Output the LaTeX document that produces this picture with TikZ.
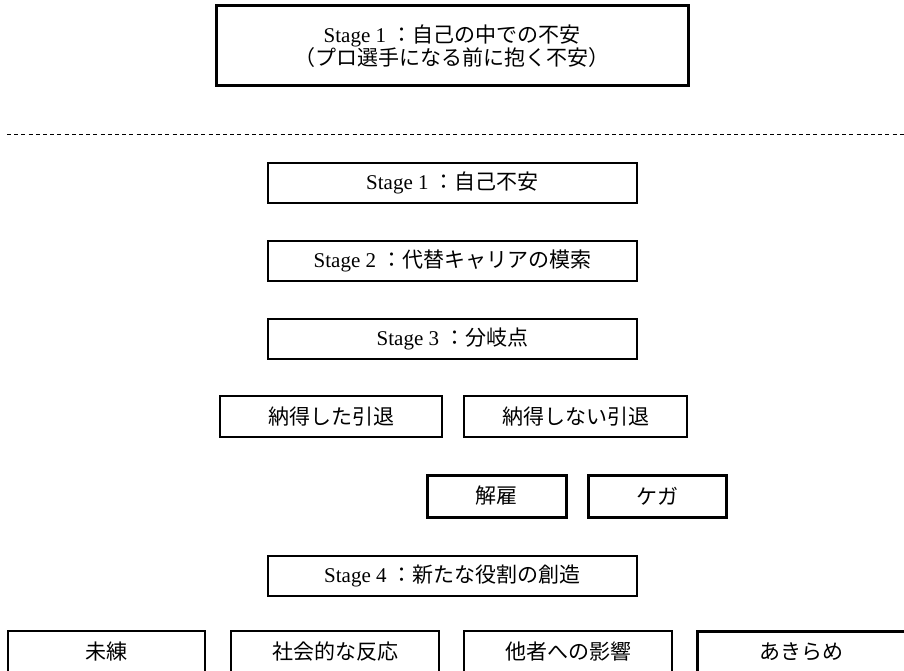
\documentclass[tikz,border=0pt]{standalone}
\usepackage{fontspec}
\setmainfont{Liberation Serif}
\newfontfamily\jp{Noto Sans CJK JP}
\tikzset{
  box/.style={draw=black, line width=1.3pt, rectangle, inner sep=0pt,
    font=\fontsize{21}{22.5}\selectfont, align=center},
  thickbox/.style={box, line width=3pt},
}
\begin{document}
\begin{tikzpicture}[x=1pt,y=-1pt]
\useasboundingbox (0,0) rectangle (904,671);
\node[thickbox, minimum width=472pt, minimum height=80pt] (top) at (452,46)
  {Stage 1 {\jp ：自己の中での不安}\\{\jp （プロ選手になる前に抱く不安）}};
\coordinate (dl) at (7,135);
\coordinate (dr) at (904,135);
\draw[line width=1pt, dash pattern=on 4pt off 3.2pt] (dl) -- (dr);
\node[box, minimum width=369pt, minimum height=40pt] (s1) at (452.5,183) {Stage 1 {\jp ：自己不安}};
\node[box, minimum width=369pt, minimum height=40pt] (s2) at (452.5,261) {Stage 2 {\jp ：代替キャリアの模索}};
\node[box, minimum width=369pt, minimum height=40pt] (s3) at (452.5,339) {Stage 3 {\jp ：分岐点}};
\node[box, minimum width=222pt, minimum height=41pt] (ok) at (331,416.5) {\jp 納得した引退};
\node[box, minimum width=223pt, minimum height=41pt] (ng) at (575.5,416.5) {\jp 納得しない引退};
\node[thickbox, minimum width=139pt, minimum height=42pt] (kaiko) at (496.5,496) {\jp 解雇};
\node[thickbox, minimum width=138pt, minimum height=42pt] (kega) at (657,496) {\jp ケガ};
\node[box, minimum width=369pt, minimum height=40pt] (s4) at (452.5,576) {Stage 4 {\jp ：新たな役割の創造}};
\node[box, minimum width=197pt, minimum height=42pt] (b1) at (106.5,652) {\jp 未練};
\node[box, minimum width=208pt, minimum height=42pt] (b2) at (335,652) {\jp 社会的な反応};
\node[box, minimum width=208pt, minimum height=42pt] (b3) at (568,652) {\jp 他者への影響};
\node[thickbox, minimum width=209pt, minimum height=42pt] (b4) at (801.5,652) {\jp あきらめ};
\end{tikzpicture}
\end{document}
